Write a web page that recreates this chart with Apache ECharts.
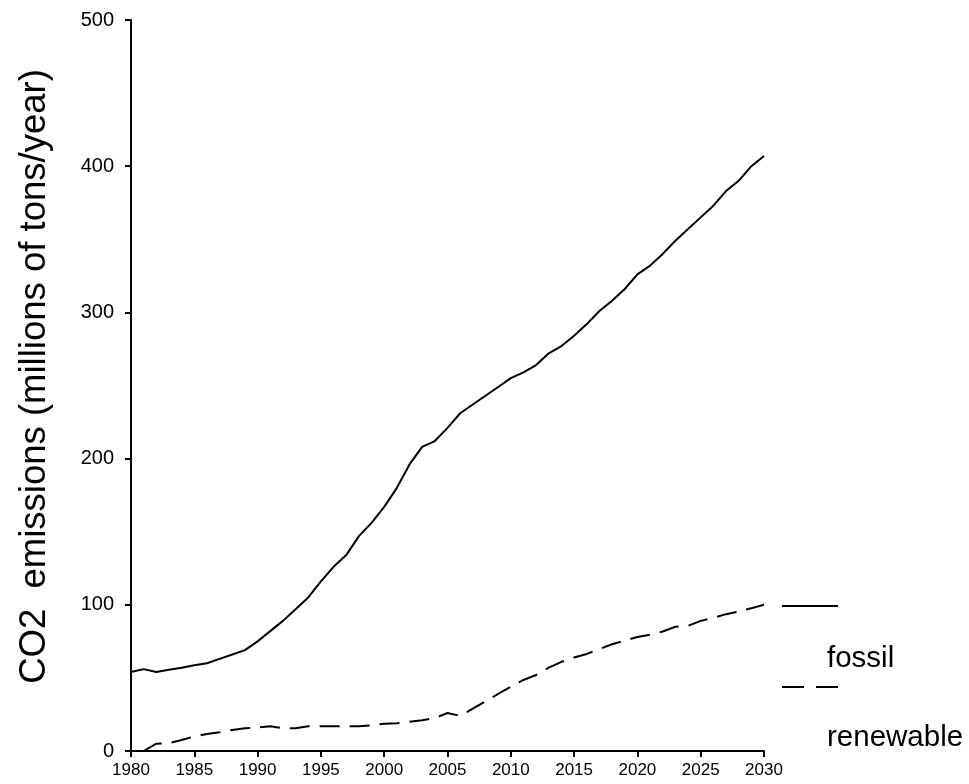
<!DOCTYPE html>
<html>
<head>
<meta charset="utf-8">
<script src="https://cdn.jsdelivr.net/npm/echarts@6/dist/echarts.min.js"></script>
<style>html,body{margin:0;padding:0;background:#fff}#c{width:969px;height:784px}</style>
</head>
<body>
<div id="c"></div>
<script>
const years = [1980,1981,1982,1983,1984,1985,1986,1987,1988,1989,1990,1991,1992,1993,1994,1995,1996,1997,1998,1999,2000,2001,2002,2003,2004,2005,2006,2007,2008,2009,2010,2011,2012,2013,2014,2015,2016,2017,2018,2019,2020,2021,2022,2023,2024,2025,2026,2027,2028,2029,2030];
const fossil = [54,56,54,55.5,57,58.7,60,63,66,69,75,82,89,97,105,116,126,134,147,156,167,180,196,208,212,221,231,237,243,249,255,259,264,272,277,284,292,301,308,316,326,332,340,349,357,365,373,383,390,400,407];
const renewable = [null,0,5,5.3,7.5,10,11.6,12.8,14.4,15.5,16,17,15.5,15.5,17,17,17,17,17,17.5,18.7,19,20,21,22.5,26,24,29,34,39,44,48.6,52,57,61,64,66.4,69.7,73,75.6,78,79.5,81.7,85,85.6,89,91,93.6,95.4,97.7,100];
const seriesNames = ['fossil','renewable'];
const yTitle = 'CO2  emissions (millions of tons/year)';

const chart = echarts.init(document.getElementById('c'));
const pair = arr => years.map((y,i) => [y, arr[i] === null ? '-' : arr[i]]);
const font = 'Liberation Sans, Arial, sans-serif';
chart.setOption({
  animation: false,
  backgroundColor: '#fff',
  grid: {left: 131, right: 205, top: 20, bottom: 33, containLabel: false},
  xAxis: {
    type: 'value', min: 1980, max: 2030, interval: 5,
    axisLine: {onZero: false, lineStyle: {color: '#000', width: 2}},
    axisTick: {show: true, length: 6, lineStyle: {color: '#000', width: 2}},
    axisLabel: {color: '#000', fontSize: 17, fontFamily: font, margin: 11, formatter: v => String(v)},
    splitLine: {show: false}
  },
  yAxis: {
    type: 'value', min: 0, max: 500, interval: 100,
    name: yTitle, nameLocation: 'middle', nameGap: 78, nameRotate: 90,
    nameTextStyle: {color: '#000', fontSize: 36.5, fontFamily: font, padding: [0, 0, 0, 18]},
    axisLine: {show: true, lineStyle: {color: '#000', width: 2}},
    axisTick: {show: true, length: 6, lineStyle: {color: '#000', width: 2}},
    axisLabel: {color: '#000', fontSize: 20, fontFamily: font, margin: 17},
    splitLine: {show: false}
  },
  series: [
    {name: seriesNames[0], type: 'line', data: pair(fossil), showSymbol: false, symbol: 'none',
     lineStyle: {color: '#000', width: 2, type: 'solid'}},
    {name: seriesNames[1], type: 'line', data: pair(renewable), showSymbol: false, symbol: 'none',
     lineStyle: {color: '#000', width: 2, type: [20, 10]}}
  ],
  graphic: [
    {type: 'line', shape: {x1: 782, y1: 606, x2: 838, y2: 606}, style: {stroke: '#000', lineWidth: 2}},
    {type: 'text', left: 827, top: 644, style: {text: seriesNames[0], fill: '#000', font: '29.5px ' + font}},
    {type: 'line', shape: {x1: 782, y1: 687, x2: 838, y2: 687}, style: {stroke: '#000', lineWidth: 2, lineDash: [22, 12]}},
    {type: 'text', left: 827, top: 723, style: {text: seriesNames[1], fill: '#000', font: '29.5px ' + font}}
  ]
});
</script>
</body>
</html>
